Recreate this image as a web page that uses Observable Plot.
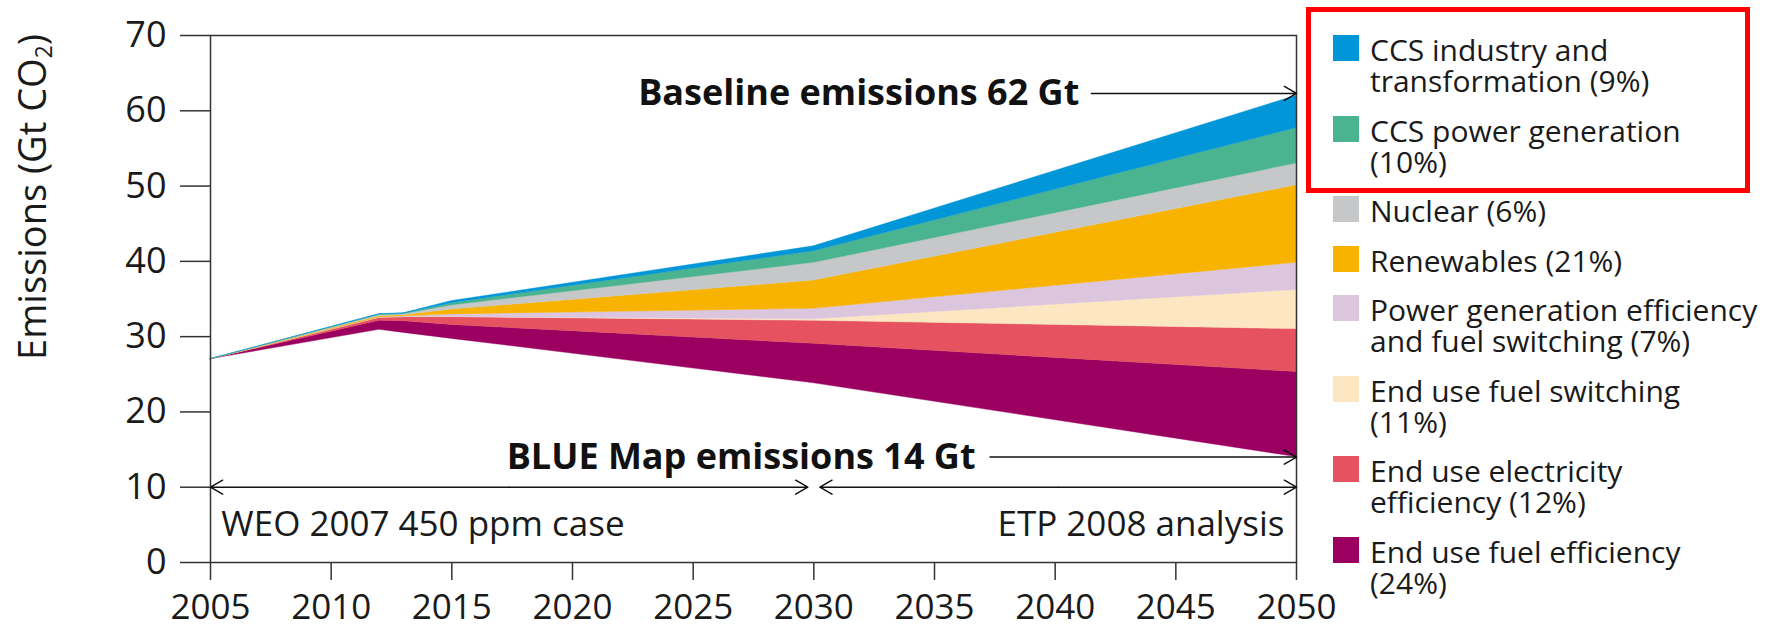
<!DOCTYPE html>
<html>
<head>
<meta charset="utf-8">
<script src="https://cdn.jsdelivr.net/npm/d3@7"></script>
<script src="https://cdn.jsdelivr.net/npm/@observablehq/plot@0.6"></script>
<style>
  html, body { margin: 0; padding: 0; background: #fff; }
  body { font-family: "Open Sans", sans-serif; color: #1a1a1a; }
  #wrap { position: relative; width: 1765px; height: 631px; overflow: hidden; }
  #chart { position: absolute; left: 0; top: 0; }
  #ylabel { position: absolute; left: 31px; top: 197px; transform: translate(-50%, -50%) rotate(-90deg);
            white-space: nowrap; font-size: 38px; line-height: 40px; color: #1a1a1a; }
  #ylabel sub { font-size: 60%; vertical-align: -0.25em; line-height: 0; }
  #legend { position: absolute; left: 1333px; top: 34px; font-size: 30px; line-height: 31px; }
  .item { display: flex; align-items: flex-start; margin-bottom: 18.5px; }
  .sw { width: 26px; height: 26px; flex: none; margin-right: 11px; margin-top: 1px; }
  #box { position: absolute; left: 1306px; top: 7px; width: 434px; height: 176px; border: 5px solid #ff0000; }
</style>
</head>
<body>
<div id="wrap">
  <div id="chart"></div>
  <div id="ylabel">Emissions (Gt CO<sub>2</sub>)</div>
  <div id="legend"></div>
  <div id="box"></div>
</div>
<script>
// ---- data (Gt CO2) ----
const years = [2005, 2012, 2013, 2015, 2030, 2050];
const blueMap          = [27.0, 30.9, 30.5, 29.7, 23.8, 14.0];
const endUseFuelEff    = [0, 1.2, 1.55, 1.85, 5.25, 11.3];
const endUseElecEff    = [0, 0.4, 0.55, 1.05, 3.05, 5.7];
const endUseFuelSwitch = [0, 0, 0, 0, 0.2, 5.2];
const powerGenEff      = [0, 0.05, 0.1, 0.35, 1.4, 3.6];
const renewables       = [0, 0.15, 0.15, 0.65, 3.75, 10.3];
const nuclear          = [0, 0.15, 0.12, 0.55, 2.35, 2.9];
const ccsPower         = [0, 0.1, 0.08, 0.3, 1.55, 4.7];
const ccsIndustry      = [0, 0.05, 0.05, 0.27, 0.65, 4.3];

const seriesNames = ["BLUE Map", "End use fuel efficiency", "End use electricity efficiency",
  "End use fuel switching", "Power generation efficiency and fuel switching", "Renewables",
  "Nuclear", "CCS power generation", "CCS industry and transformation"];
const seriesValues = [blueMap, endUseFuelEff, endUseElecEff, endUseFuelSwitch, powerGenEff,
  renewables, nuclear, ccsPower, ccsIndustry];
const seriesColors = ["#ffffff", "#9b0060", "#e6525f", "#fde7c2", "#dcc6de", "#f8b300",
  "#c6c7c8", "#4ab390", "#0096d8"];

// legend (top to bottom)
const legendLines = [
  ["CCS industry and", "transformation (9%)"],
  ["CCS power generation", "(10%)"],
  ["Nuclear (6%)"],
  ["Renewables (21%)"],
  ["Power generation efficiency", "and fuel switching (7%)"],
  ["End use fuel switching", "(11%)"],
  ["End use electricity", "efficiency (12%)"],
  ["End use fuel efficiency", "(24%)"]
];
const legendColors = ["#0096d8", "#4ab390", "#c6c7c8", "#f8b300", "#dcc6de", "#fde7c2", "#e6525f", "#9b0060"];

const xTicks = [2005, 2010, 2015, 2020, 2025, 2030, 2035, 2040, 2045, 2050];
const yTicks = [0, 10, 20, 30, 40, 50, 60, 70];

// annotations
const calloutText = ["Baseline emissions 62 Gt", "BLUE Map emissions 14 Gt"];
const calloutTextX = [2041.0, 2036.7];
const calloutArrowX1 = [2041.5, 2037.3];
const calloutY = [62.3, 14.0];
const periodText = ["WEO 2007 450 ppm case", "ETP 2008 analysis"];
const periodStart = [2005, 2030.25];
const periodEnd = [2029.75, 2050];
const periodLabelX = [2005.45, 2049.5];
const periodArrowY = 10;
const periodLabelY = 5.0;

// ---- build tables ----
const table = [];
seriesNames.forEach((s, k) => years.forEach((yr, i) => table.push({year: yr, series: s, value: seriesValues[k][i]})));

const callouts = calloutText.map((t, i) => ({text: t, tx: calloutTextX[i], x1: calloutArrowX1[i], x2: 2050, y: calloutY[i]}));
const periodArrows = [];
periodStart.forEach((a, i) => {
  const mid = (a + periodEnd[i]) / 2;
  periodArrows.push({x1: mid, x2: a, y: periodArrowY});
  periodArrows.push({x1: mid, x2: periodEnd[i], y: periodArrowY});
});
const periodLeft = [{text: periodText[0], x: periodLabelX[0], y: periodLabelY}];
const periodRight = [{text: periodText[1], x: periodLabelX[1], y: periodLabelY}];

const chart = Plot.plot({
  width: 1765,
  height: 631,
  marginLeft: 210,
  marginRight: 469,
  marginTop: 35,
  marginBottom: 69,
  style: {fontFamily: "Open Sans, sans-serif", background: "white", color: "#1a1a1a", overflow: "visible"},
  x: {domain: [2005, 2050]},
  y: {domain: [0, 70]},
  color: {domain: seriesNames, range: seriesColors},
  marks: [
    Plot.areaY(table, {x: "year", y: "value", z: "series", fill: "series", stroke: "series", strokeWidth: 0.4, order: seriesNames, curve: "linear"}),
    Plot.frame({stroke: "#333", strokeWidth: 1.5}),
    Plot.axisY({ticks: yTicks, tickSize: 30, tickPadding: 14, fontSize: 36, strokeWidth: 1.5, stroke: "#333", label: null, tickFormat: d => String(d)}),
    Plot.axisX({ticks: xTicks, tickSize: 18, tickPadding: 14, fontSize: 35, strokeWidth: 1.5, stroke: "#333", label: null, tickFormat: d => String(d)}),
    Plot.arrow(callouts, {x1: "x1", x2: "x2", y1: "y", y2: "y", stroke: "#111", strokeWidth: 1.5, headLength: 14}),
    Plot.text(callouts, {x: "tx", y: "y", text: "text", textAnchor: "end", fontSize: 36, fontWeight: "bold", fill: "#111"}),
    Plot.arrow(periodArrows, {x1: "x1", x2: "x2", y1: "y", y2: "y", stroke: "#111", strokeWidth: 1.5, headLength: 14}),
    Plot.text(periodLeft, {x: "x", y: "y", text: "text", textAnchor: "start", fontSize: 35, fill: "#1a1a1a"}),
    Plot.text(periodRight, {x: "x", y: "y", text: "text", textAnchor: "end", fontSize: 35, fill: "#1a1a1a"})
  ]
});
document.getElementById("chart").appendChild(chart);

// legend
const lg = document.getElementById("legend");
legendLines.forEach((lines, i) => {
  const it = document.createElement("div");
  it.className = "item";
  const sw = document.createElement("div");
  sw.className = "sw";
  sw.style.background = legendColors[i];
  const tx = document.createElement("div");
  tx.innerHTML = lines.join("<br>");
  it.appendChild(sw);
  it.appendChild(tx);
  lg.appendChild(it);
});
</script>
</body>
</html>
